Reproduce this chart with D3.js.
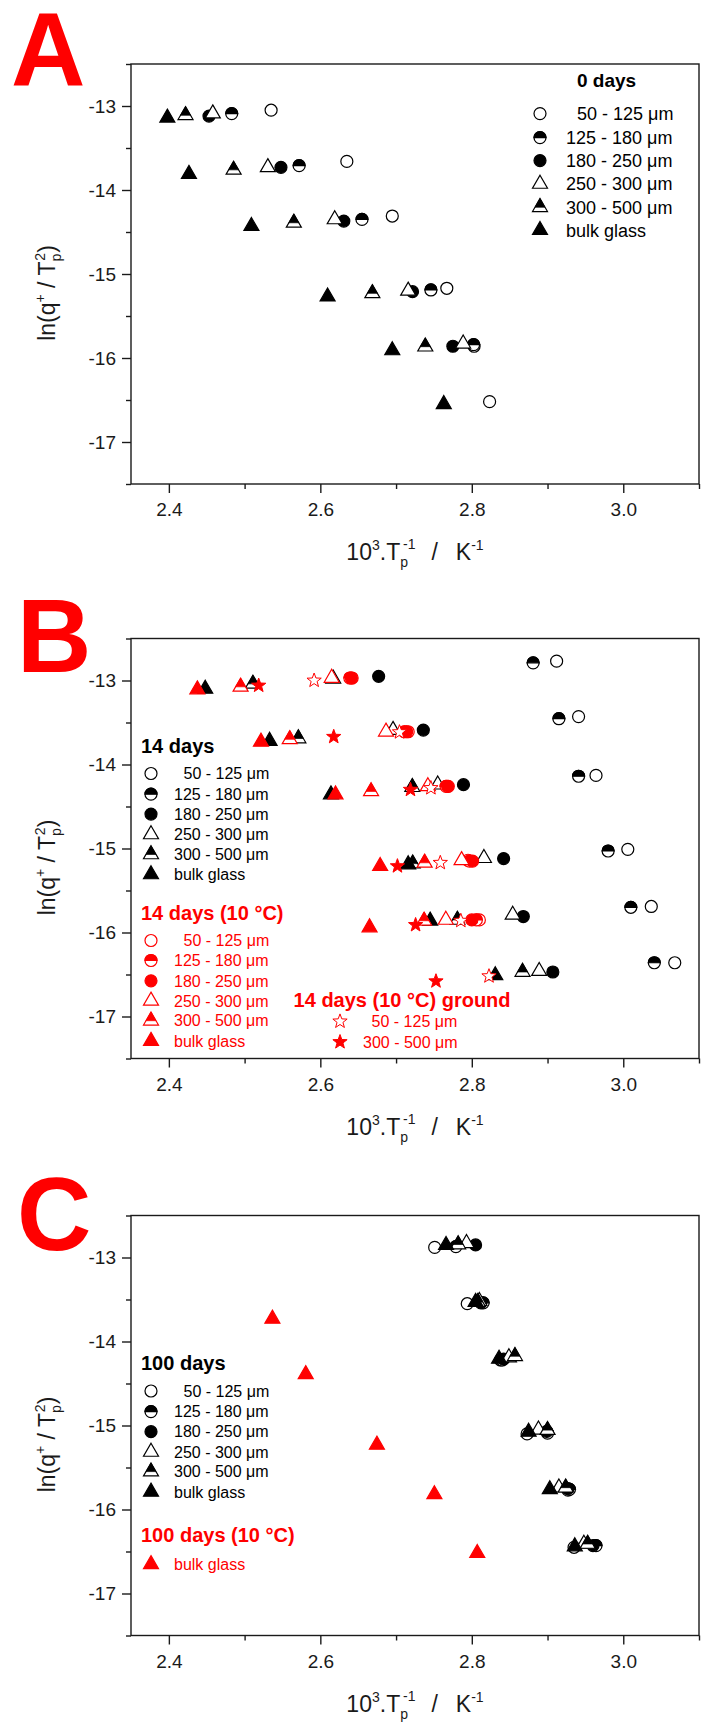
<!DOCTYPE html>
<html><head><meta charset="utf-8">
<script src="https://cdn.jsdelivr.net/npm/d3@7"></script>
<style>
body{margin:0;background:#fff}
svg{display:block}
text{font-family:"Liberation Sans",Arial,sans-serif}
</style>
</head><body>
<svg id="chart" width="716" height="1732"></svg>
<script>
// ---------- axis ticks ----------
const xTicks = [2.4, 2.6, 2.8, 3.0];
const xMinor = [2.5, 2.7, 2.9, 3.1];
const yTicks = [-13, -14, -15, -16, -17];
const yMinor = [-12.5, -13.5, -14.5, -15.5, -16.5, -17.5];
const sizeLabels = ["50 - 125 \u03bcm", "125 - 180 \u03bcm", "180 - 250 \u03bcm", "250 - 300 \u03bcm", "300 - 500 \u03bcm", "bulk glass"];
const groundLabels = ["50 - 125 \u03bcm", "300 - 500 \u03bcm"];

// ---------- panel A : 0 days ----------
const A_50   = [[2.535,-13.05],[2.635,-13.66],[2.695,-14.31],[2.767,-15.17],[2.803,-15.86],[2.8235,-16.52]];
const A_125  = [[2.483,-13.09],[2.572,-13.71],[2.655,-14.35],[2.746,-15.19],[2.8024,-15.84]];
const A_180  = [[2.453,-13.12],[2.548,-13.73],[2.631,-14.37],[2.7217,-15.21],[2.775,-15.86]];
const A_250  = [[2.458,-13.09],[2.5307,-13.73],[2.619,-14.35],[2.716,-15.20],[2.7886,-15.83]];
const A_300  = [[2.422,-13.11],[2.4855,-13.76],[2.565,-14.39],[2.6687,-15.23],[2.7386,-15.865]];
const A_bulk = [[2.398,-13.14],[2.4265,-13.81],[2.509,-14.43],[2.6096,-15.27],[2.695,-15.91],[2.763,-16.55]];

// ---------- panel B : 14 days ----------
const B_50   = [[2.912,-12.77],[2.941,-13.43],[2.964,-14.13],[3.006,-15.01],[3.037,-15.69],[3.068,-16.36]];
const B_125  = [[2.881,-12.79],[2.915,-13.455],[2.941,-14.14],[2.980,-15.03],[3.010,-15.70],[3.041,-16.36]];
const B_180  = [[2.677,-12.95],[2.736,-13.59],[2.789,-14.24],[2.842,-15.12],[2.868,-15.81],[2.907,-16.47]];
const B_250  = [[2.617,-12.98],[2.696,-13.59],[2.755,-14.24],[2.816,-15.115],[2.854,-15.79],[2.889,-16.46]];
const B_300  = [[2.511,-13.04],[2.571,-13.69],[2.7215,-14.27],[2.722,-15.18],[2.781,-15.85],[2.867,-16.47]];
const B_bulk = [[2.448,-13.10],[2.533,-13.72],[2.614,-14.357],[2.716,-15.19],[2.745,-15.86],[2.831,-16.51]];
// 14 days (10 °C)
const R14_50   = [[2.642,-12.97],[2.716,-13.61],[2.769,-14.26],[2.795,-15.14],[2.810,-15.85]];
const R14_125  = [[2.639,-12.97],[2.711,-13.61],[2.766,-14.26],[2.797,-15.15],[2.806,-15.85]];
const R14_180  = [[2.641,-12.97],[2.714,-13.61],[2.768,-14.26],[2.801,-15.15],[2.800,-15.85]];
const R14_250  = [[2.615,-12.97],[2.6867,-13.61],[2.742,-14.26],[2.7865,-15.14],[2.7657,-15.85]];
const R14_300  = [[2.4947,-13.075],[2.5596,-13.70],[2.667,-14.32],[2.7377,-15.17],[2.737,-15.86]];
const R14_bulk = [[2.4376,-13.107],[2.5216,-13.73],[2.620,-14.357],[2.679,-15.21],[2.665,-15.94]];
// 14 days (10 °C) ground
const G_50  = [[2.5918,-13.00],[2.7045,-13.615],[2.746,-14.28],[2.7584,-15.17],[2.7855,-15.86],[2.8227,-16.52]];
const G_300 = [[2.5186,-13.06],[2.6177,-13.67],[2.719,-14.30],[2.7018,-15.21],[2.7258,-15.91],[2.7527,-16.58]];

// ---------- panel C : 100 days ----------
const C_50   = [[2.751,-12.88],[2.794,-13.55],[2.838,-14.22],[2.873,-15.10],[2.927,-15.77],[2.935,-16.45]];
const C_125  = [[2.779,-12.87],[2.815,-13.54],[2.840,-14.22],[2.900,-15.09],[2.929,-15.76],[2.964,-16.43]];
const C_180  = [[2.805,-12.85],[2.812,-13.54],[2.842,-14.21],[2.899,-15.07],[2.927,-15.75],[2.960,-16.43]];
const C_250  = [[2.793,-12.83],[2.810,-13.52],[2.849,-14.19],[2.888,-15.05],[2.915,-15.74],[2.948,-16.41]];
const C_300  = [[2.782,-12.845],[2.808,-13.53],[2.857,-14.175],[2.900,-15.055],[2.924,-15.74],[2.953,-16.41]];
const C_bulk = [[2.766,-12.853],[2.805,-13.53],[2.836,-14.207],[2.875,-15.076],[2.903,-15.76],[2.936,-16.44]];
const R100_bulk = [[2.5367,-13.73],[2.5807,-14.39],[2.6747,-15.23],[2.7506,-15.82],[2.8072,-16.52]];

// ---------- drawing ----------
const RED = "#ff0000", BLACK = "#000000";
const shapes = ["circle","halfCircle","filledCircle","triangle","halfTriangle","filledTriangle"];
const svg = d3.select("#chart");
const X0 = 131, X1 = 699, H = 420;
const CR = 6, TS = 15, TH = TS*Math.sqrt(3)/2;

function drawMarker(g, shape, color, cx, cy){
  const m = g.append("g").attr("transform", `translate(${cx},${cy})`);
  const sw = 1.2;
  if (shape === "circle" || shape === "halfCircle" || shape === "filledCircle"){
    m.append("circle").attr("r", CR).attr("fill", shape==="filledCircle"?color:"#fff").attr("stroke", color).attr("stroke-width", sw);
    if (shape === "halfCircle")
      m.append("path").attr("d", `M${-CR},0 A${CR},${CR} 0 0 1 ${CR},0 Z`).attr("fill", color).attr("stroke", color).attr("stroke-width", sw);
  } else if (shape.indexOf("riangle") >= 0){
    const top = -2*TH/3, bot = TH/3;
    m.append("path").attr("d", `M0,${top} L${TS/2},${bot} L${-TS/2},${bot} Z`)
      .attr("fill", shape==="filledTriangle"?color:"#fff").attr("stroke", color).attr("stroke-width", sw).attr("stroke-linejoin","miter");
    if (shape === "halfTriangle")
      m.append("path").attr("d", `M0,${top} L${TS/3},0 L${-TS/3},0 Z`).attr("fill", color).attr("stroke", color).attr("stroke-width", sw*0.6);
  } else if (shape === "star" || shape === "filledStar"){
    const R = 7.5, r = 3.1; let d = "";
    for (let i=0;i<10;i++){
      const a = -Math.PI/2 + i*Math.PI/5, rr = i%2? r : R;
      d += (i?"L":"M") + (rr*Math.cos(a)).toFixed(2) + "," + (rr*Math.sin(a)).toFixed(2);
    }
    m.append("path").attr("d", d+"Z").attr("fill", shape==="filledStar"?color:"#fff").attr("stroke", color).attr("stroke-width", 1);
  }
}

function panel(top, series, letter, letterBaseline){
  const x = d3.scaleLinear().domain([2.35, 3.1]).range([X0, X1]);
  const y = d3.scaleLinear().domain([-17.5, -12.5]).range([top+H, top]);
  const g = svg.append("g");
  // big letter
  g.append("text").attr("x", letter==="A"?11:17).attr("y", letterBaseline).text(letter)
    .attr("font-size", 103).attr("font-weight", "bold").attr("fill", RED);
  // frame
  g.append("rect").attr("x", X0).attr("y", top).attr("width", X1-X0).attr("height", H)
    .attr("fill", "none").attr("stroke", "#1a1a1a").attr("stroke-width", 1.4);
  // x axis
  const xa = g.append("g").attr("transform", `translate(0,${top+H})`)
    .call(d3.axisBottom(x).tickValues(xTicks).tickFormat(d3.format(".1f")).tickSize(9).tickSizeOuter(0));
  xa.select(".domain").remove();
  xa.selectAll("line").attr("stroke", "#1a1a1a").attr("stroke-width", 1.4);
  xa.selectAll("text").attr("font-size", 19).attr("fill", "#1a1a1a").attr("dy", null).attr("y", 32).style("font-family", '"Liberation Sans",Arial,sans-serif');
  const xm = g.append("g").attr("transform", `translate(0,${top+H})`)
    .call(d3.axisBottom(x).tickValues(xMinor).tickFormat("").tickSize(5).tickSizeOuter(0));
  xm.select(".domain").remove();
  xm.selectAll("line").attr("stroke", "#1a1a1a").attr("stroke-width", 1.4);
  // y axis
  const ya = g.append("g").attr("transform", `translate(${X0},0)`)
    .call(d3.axisLeft(y).tickValues(yTicks).tickFormat(d => "-" + Math.abs(d)).tickSize(9).tickSizeOuter(0));
  ya.select(".domain").remove();
  ya.selectAll("line").attr("stroke", "#1a1a1a").attr("stroke-width", 1.4);
  ya.selectAll("text").attr("font-size", 19).attr("fill", "#1a1a1a").attr("x", -15).style("font-family", '"Liberation Sans",Arial,sans-serif');
  const ym = g.append("g").attr("transform", `translate(${X0},0)`)
    .call(d3.axisLeft(y).tickValues(yMinor).tickFormat("").tickSize(5).tickSizeOuter(0));
  ym.select(".domain").remove();
  ym.selectAll("line").attr("stroke", "#1a1a1a").attr("stroke-width", 1.4);
  // x title
  const xt = g.append("text").attr("x", (X0+X1)/2).attr("y", top+H+76).attr("text-anchor","middle").attr("font-size", 23).attr("fill","#1a1a1a");
  xt.append("tspan").text("10");
  xt.append("tspan").attr("font-size", 14).attr("dy", -10).text("3");
  xt.append("tspan").attr("dy", 10).text(".T");
  xt.append("tspan").attr("font-size", 14).attr("dy", 7).text("p");
  xt.append("tspan").attr("font-size", 14).attr("dx", -5).attr("dy", -18).text("-1");
  xt.append("tspan").attr("dx", 16).attr("dy", 11).text("/");
  xt.append("tspan").attr("dx", 18).text("K");
  xt.append("tspan").attr("font-size", 14).attr("dy", -10).text("-1");
  // y title
  const yc = top + H/2 + 19;
  const yt = g.append("text").attr("transform", `translate(55,${yc}) rotate(-90)`).attr("text-anchor","middle").attr("font-size", 23).attr("fill","#1a1a1a");
  yt.append("tspan").text("ln(q");
  yt.append("tspan").attr("font-size", 14).attr("dy", -10).text("+");
  yt.append("tspan").attr("dy", 10).text(" / T");
  yt.append("tspan").attr("font-size", 14).attr("dy", 6).text("p");
  yt.append("tspan").attr("font-size", 14).attr("dx", -7).attr("dy", -16).text("2");
  yt.append("tspan").attr("dy", 10).text(")");
  // data
  const dg = g.append("g");
  series.forEach(s => s.data.forEach(p => drawMarker(dg, s.shape, s.color, x(p[0]), y(p[1]))));
  return g;
}

function legend(g, x0, ys, textX, labels, shapeList, color, fs){
  labels.forEach((lab, i) => {
    drawMarker(g, shapeList[i], color, x0, ys[i]);
    g.append("text").attr("x", textX[i]).attr("y", ys[i]).attr("dy", "0.36em").attr("font-size", fs).attr("fill", color).text(lab);
  });
}

// Panel A
const gA = panel(64, [
  {data:A_50, shape:"circle", color:BLACK},
  {data:A_125, shape:"halfCircle", color:BLACK},
  {data:A_180, shape:"filledCircle", color:BLACK},
  {data:A_250, shape:"triangle", color:BLACK},
  {data:A_300, shape:"halfTriangle", color:BLACK},
  {data:A_bulk, shape:"filledTriangle", color:BLACK}
], "A", 85);
gA.append("text").attr("x", 577).attr("y", 87).attr("font-size", 19).attr("font-weight","bold").text("0 days");
legend(gA, 540, [113.6,137.6,160.6,183.9,207.2,230.1], [577,566,566,566,566,566], sizeLabels, shapes, BLACK, 18);

// Panel B
const gB = panel(638.5, [
  {data:B_50, shape:"circle", color:BLACK},
  {data:B_125, shape:"halfCircle", color:BLACK},
  {data:B_180, shape:"filledCircle", color:BLACK},
  {data:B_250, shape:"triangle", color:BLACK},
  {data:B_300, shape:"halfTriangle", color:BLACK},
  {data:B_bulk, shape:"filledTriangle", color:BLACK},
  {data:R14_50, shape:"circle", color:RED},
  {data:R14_125, shape:"halfCircle", color:RED},
  {data:R14_180, shape:"filledCircle", color:RED},
  {data:R14_250, shape:"triangle", color:RED},
  {data:R14_300, shape:"halfTriangle", color:RED},
  {data:R14_bulk, shape:"filledTriangle", color:RED},
  {data:G_50, shape:"star", color:RED},
  {data:G_300, shape:"filledStar", color:RED}
], "B", 672);
gB.append("text").attr("x", 141).attr("y", 753).attr("font-size", 20).attr("font-weight","bold").text("14 days");
legend(gB, 151, [773.5,794.2,814.1,834.4,854.4,874.4], [183.5,174,174,174,174,174], sizeLabels, shapes, BLACK, 16);
gB.append("text").attr("x", 141).attr("y", 920).attr("font-size", 20).attr("font-weight","bold").attr("fill", RED).text("14 days (10 \u00b0C)");
legend(gB, 151, [940.5,960.5,980.8,1000.8,1020.7,1041], [183.5,174,174,174,174,174], sizeLabels, shapes, RED, 16);
gB.append("text").attr("x", 293.6).attr("y", 1007).attr("font-size", 20).attr("font-weight","bold").attr("fill", RED).text("14 days (10 \u00b0C) ground");
legend(gB, 340, [1021.4,1042], [371.6,363], groundLabels, ["star","filledStar"], RED, 16);

// Panel C
const gC = panel(1215.5, [
  {data:C_50, shape:"circle", color:BLACK},
  {data:C_125, shape:"halfCircle", color:BLACK},
  {data:C_180, shape:"filledCircle", color:BLACK},
  {data:C_250, shape:"triangle", color:BLACK},
  {data:C_300, shape:"halfTriangle", color:BLACK},
  {data:C_bulk, shape:"filledTriangle", color:BLACK},
  {data:R100_bulk, shape:"filledTriangle", color:RED}
], "C", 1250);
gC.append("text").attr("x", 141).attr("y", 1370).attr("font-size", 20).attr("font-weight","bold").text("100 days");
legend(gC, 151, [1391,1411.6,1431.7,1451.9,1471.6,1491.8], [183.5,174,174,174,174,174], sizeLabels, shapes, BLACK, 16);
gC.append("text").attr("x", 141).attr("y", 1542).attr("font-size", 20).attr("font-weight","bold").attr("fill", RED).text("100 days (10 \u00b0C)");
legend(gC, 151, [1564.3], [174], ["bulk glass"], ["filledTriangle"], RED, 16);
</script>
</body></html>
